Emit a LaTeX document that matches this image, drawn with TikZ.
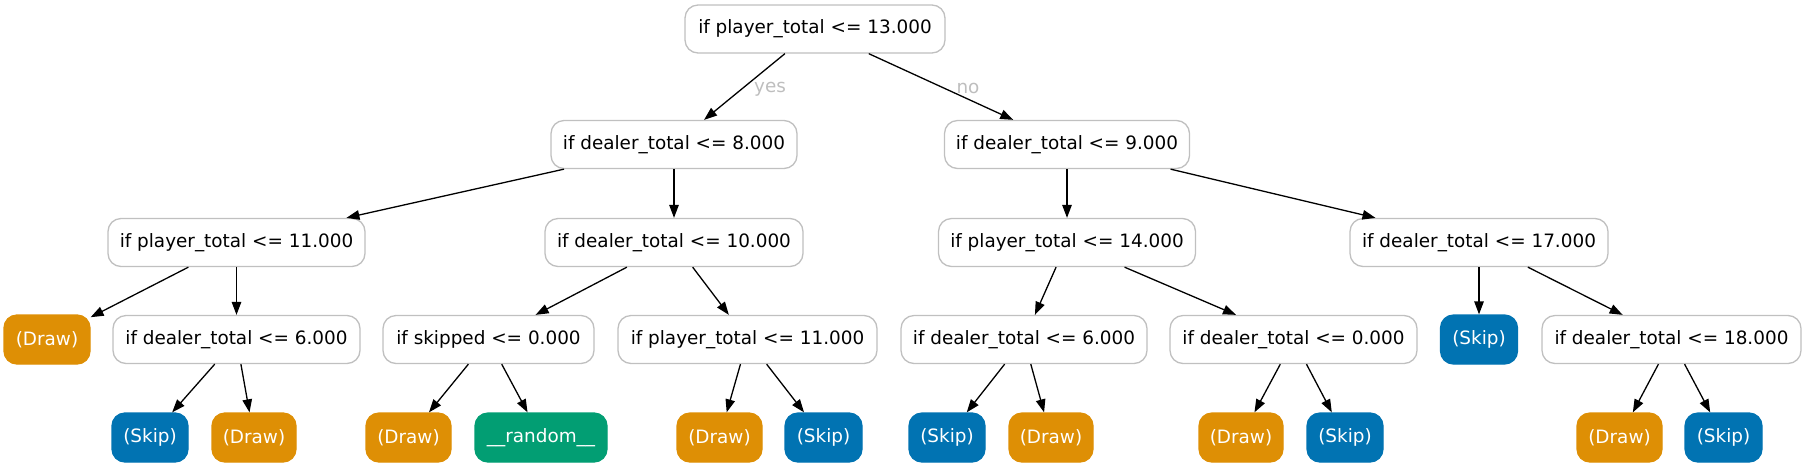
\documentclass[tikz,border=0pt]{standalone}
\usepackage{fontspec}
\setmainfont{DejaVu Sans}
\usetikzlibrary{arrows.meta}
\definecolor{drawc}{RGB}{222,143,5}
\definecolor{skipc}{RGB}{1,115,178}
\definecolor{randc}{RGB}{2,158,115}
\definecolor{bord}{RGB}{192,192,192}
\definecolor{lab}{RGB}{190,190,190}
\tikzset{
  base/.style={rectangle, rounded corners=13pt, inner xsep=2pt, inner ysep=0pt,
    font=\fontsize{18.4}{22}\selectfont, line width=1.3pt},
  split/.style={base, draw=bord, fill=white, text=black, minimum height=48pt},
  leafD/.style={base, draw=drawc, fill=drawc, text=white, minimum height=49pt},
  leafS/.style={base, draw=skipc, fill=skipc, text=white, minimum height=49pt},
  leafR/.style={base, draw=randc, fill=randc, text=white, minimum height=49pt},
  edge/.style={line width=1.3pt, -{Triangle[length=13pt,width=9.5pt]}},
  elab/.style={text=lab, font=\fontsize{18.4}{22}\selectfont}
}
\begin{document}
\begin{tikzpicture}[x=1pt,y=-1pt]
\useasboundingbox (0,0) rectangle (1806,467);
% level 1
\node[split, minimum width=260pt] (n0) at (815,29) {if player\_total <= 13.000};
% level 2
\node[split, minimum width=246pt] (n1) at (674,144.5) {if dealer\_total <= 8.000};
\node[split, minimum width=245pt] (n2) at (1067,144.5) {if dealer\_total <= 9.000};
% level 3
\node[split, minimum width=257pt] (n3) at (236.5,242.5) {if player\_total <= 11.000};
\node[split, minimum width=258pt] (n4) at (674,242.5) {if dealer\_total <= 10.000};
\node[split, minimum width=257pt] (n5) at (1067,242.5) {if player\_total <= 14.000};
\node[split, minimum width=258pt] (n6) at (1479,242.5) {if dealer\_total <= 17.000};
% level 4
\node[leafD, minimum width=86pt] (n7) at (47,339.5) {(Draw)};
\node[split, minimum width=247pt] (n8) at (236.5,339.5) {if dealer\_total <= 6.000};
\node[split, minimum width=211pt] (n9) at (488.5,339.5) {if skipped <= 0.000};
\node[split, minimum width=259pt] (n10) at (747.5,339.5) {if player\_total <= 11.000};
\node[split, minimum width=246pt] (n11) at (1024,339.5) {if dealer\_total <= 6.000};
\node[split, minimum width=247pt] (n12) at (1293.5,339.5) {if dealer\_total <= 0.000};
\node[leafS, minimum width=77pt] (n13) at (1479,339.5) {(Skip)};
\node[split, minimum width=259pt] (n14) at (1671.5,339.5) {if dealer\_total <= 18.000};
% level 5
\node[leafS, minimum width=76pt] (n15) at (150,437.5) {(Skip)};
\node[leafD, minimum width=84pt] (n16) at (254,437.5) {(Draw)};
\node[leafD, minimum width=85pt] (n17) at (408.5,437.5) {(Draw)};
\node[leafR, minimum width=132pt] (n18) at (541,437.5) {\_\_random\_\_};
\node[leafD, minimum width=85pt] (n19) at (719.5,437.5) {(Draw)};
\node[leafS, minimum width=77pt] (n20) at (823.5,437.5) {(Skip)};
\node[leafS, minimum width=76pt] (n21) at (947,437.5) {(Skip)};
\node[leafD, minimum width=84pt] (n22) at (1051,437.5) {(Draw)};
\node[leafD, minimum width=84pt] (n23) at (1241,437.5) {(Draw)};
\node[leafS, minimum width=76pt] (n24) at (1345,437.5) {(Skip)};
\node[leafD, minimum width=85pt] (n25) at (1619.5,437.5) {(Draw)};
\node[leafS, minimum width=77pt] (n26) at (1723.5,437.5) {(Skip)};
% edges
\draw[edge] (n0) -- (n1);
\draw[edge] (n0) -- (n2);
\node[elab] (lyes) at (770,89) {yes};
\node[elab] (lno) at (968,88) {no};
\draw[edge] (n1) -- (n3);
\draw[edge] (n1) -- (n4);
\draw[edge] (n2) -- (n5);
\draw[edge] (n2) -- (n6);
\draw[edge] (n3) -- (n7);
\draw[edge] (n3) -- (n8);
\draw[edge] (n4) -- (n9);
\draw[edge] (n4) -- (n10);
\draw[edge] (n5) -- (n11);
\draw[edge] (n5) -- (n12);
\draw[edge] (n6) -- (n13);
\draw[edge] (n6) -- (n14);
\draw[edge] (n8) -- (n15);
\draw[edge] (n8) -- (n16);
\draw[edge] (n9) -- (n17);
\draw[edge] (n9) -- (n18);
\draw[edge] (n10) -- (n19);
\draw[edge] (n10) -- (n20);
\draw[edge] (n11) -- (n21);
\draw[edge] (n11) -- (n22);
\draw[edge] (n12) -- (n23);
\draw[edge] (n12) -- (n24);
\draw[edge] (n14) -- (n25);
\draw[edge] (n14) -- (n26);
\end{tikzpicture}
\end{document}
